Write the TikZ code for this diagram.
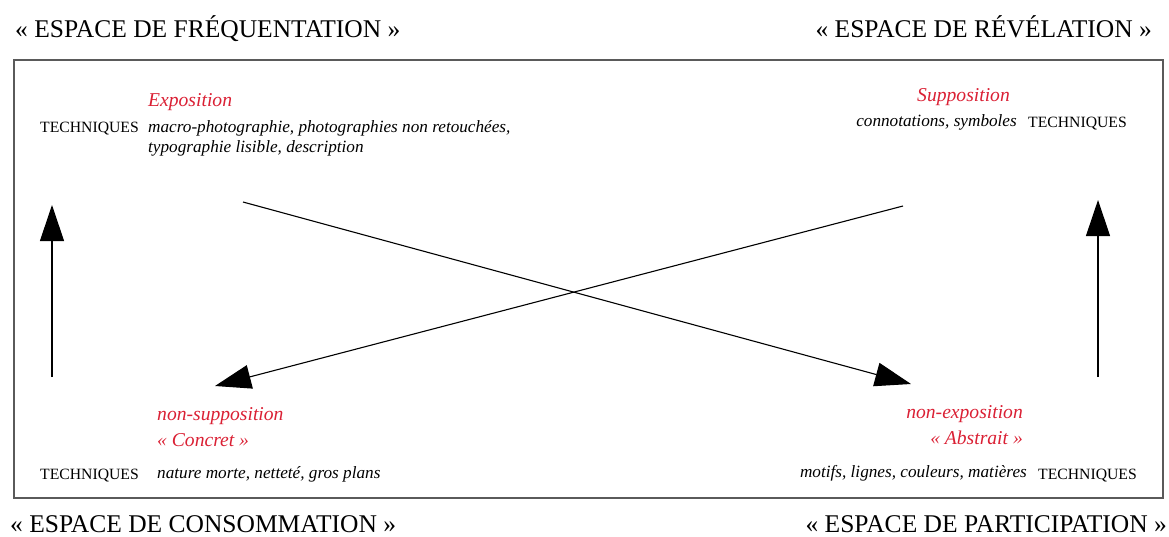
\documentclass[tikz,border=0pt]{standalone}
\usepackage{fontspec}
\setmainfont{Liberation Serif}
\usetikzlibrary{arrows.meta}
\definecolor{redlabel}{RGB}{218,32,52}
\definecolor{framegray}{RGB}{90,90,90}
\tikzset{
  x=1pt, y=-1pt,
  title/.style={inner sep=0pt, text depth=0pt, font=\fontsize{25.5}{28}\selectfont},
  tech/.style={inner sep=0pt, font=\fontsize{15.7}{18}\selectfont},
  redlab/.style={inner sep=0pt, text=redlabel, font=\fontsize{19.6}{22}\selectfont\itshape},
  itlab/.style={inner sep=0pt, font=\fontsize{17.2}{20}\selectfont\itshape},
  bigarrow/.style={draw=black, line width=1.1pt, -{Triangle[length=36pt,width=24pt]}},
}
\begin{document}
\begin{tikzpicture}
\useasboundingbox (0,0) rectangle (1169,536);
% frame
\draw[framegray, line width=1.4pt] (14,60) rectangle (1163,498);
% titles
\node[title, anchor=base west] (t1) at (15,37) {« ESPACE DE FRÉQUENTATION »};
\node[title, anchor=base east] (t2) at (1152,37) {« ESPACE DE RÉVÉLATION »};
\node[title, anchor=base west] (t3) at (10,532.5) {« ESPACE DE CONSOMMATION »};
\node[title, anchor=base east] (t4) at (1167,532.5) {« ESPACE DE PARTICIPATION »};
% top-left
\node[redlab, anchor=base west] (expo) at (148,106) {Exposition};
\node[tech, anchor=base west] (tech1) at (40,132) {TECHNIQUES};
\node[itlab, anchor=base west] (macro) at (148,132) {macro-photographie, photographies non retouchées,};
\node[itlab, anchor=base west] (typo) at (148,152) {typographie lisible, description};
% top-right
\node[redlab, anchor=base east] (supp) at (1010,101) {Supposition};
\node[itlab, anchor=base east] (conn) at (1017,126) {connotations, symboles};
\node[tech, anchor=base west] (tech2) at (1028,127) {TECHNIQUES};
% bottom-left
\node[redlab, anchor=base west] (nsupp) at (157,420) {non-supposition};
\node[redlab, anchor=base west] (concret) at (157,446) {« Concret »};
\node[tech, anchor=base west] (tech3) at (40,479) {TECHNIQUES};
\node[itlab, anchor=base west] (nature) at (157,478) {nature morte, netteté, gros plans};
% bottom-right
\node[redlab, anchor=base east] (nexpo) at (1023,418) {non-exposition};
\node[redlab, anchor=base east] (abstr) at (1023,444) {« Abstrait »};
\node[itlab, anchor=base east] (motifs) at (1027,477) {motifs, lignes, couleurs, matières};
\node[tech, anchor=base west] (tech4) at (1038,479) {TECHNIQUES};
% arrows
\coordinate (la0) at (52,377);
\coordinate (la1) at (52,205);
\coordinate (ra0) at (1098,377);
\coordinate (ra1) at (1098,200);
\coordinate (d1a) at (243,202);
\coordinate (d1b) at (911,384);
\coordinate (d2a) at (903,206);
\coordinate (d2b) at (215,386);
\draw[bigarrow] (la0) -- (la1);
\draw[bigarrow] (ra0) -- (ra1);
\draw[bigarrow] (d1a) -- (d1b);
\draw[bigarrow] (d2a) -- (d2b);
\end{tikzpicture}
\end{document}
